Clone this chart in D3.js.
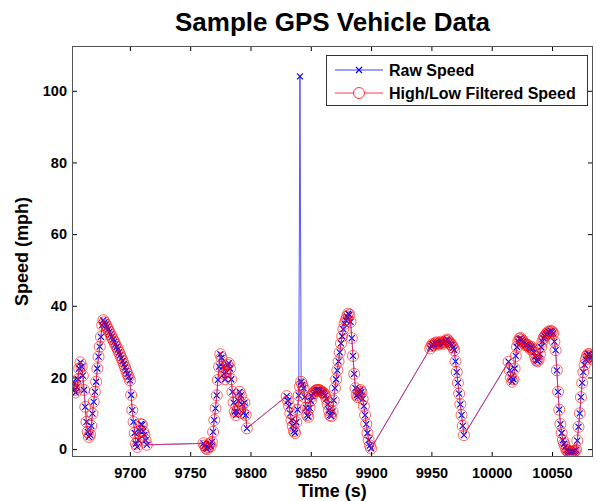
<!DOCTYPE html>
<html>
<head>
<meta charset="utf-8">
<script src="https://cdn.jsdelivr.net/npm/d3@7"></script>
<style>
  html, body { margin: 0; padding: 0; background: #fff; }
  svg { display: block; }
  text { font-family: "Liberation Sans", Arial, sans-serif; font-weight: bold; fill: #000; }
</style>
</head>
<body>
<svg id="chart" width="597" height="501"></svg>
<script>
// ---------------- DATA ----------------
const timeSec = [
  9652,9653,9654,9655,9656,9657,9658,9659,9660,9661,9662,9663,9664,9665,9666,9667,9668,9669,9670,9671,
  9672,9673,9674,9675,9676,9677,9678,9679,9680,9681,9682,9683,9684,9685,9686,9687,9688,9689,9690,9691,
  9692,9693,9694,9695,9696,9697,9698,9699,9700,9701,9702,9703,9704,9705,9706,9707,9708,9709,9710,9711,
  9712,9713,9714,
  9761,9762,9763,9764,9765,9766,9767,9768,9769,9770,9771,9772,9773,9774,9775,9776,9777,9778,9779,9780,
  9781,9782,9783,9784,9785,9786,9787,9788,9789,9790,9791,9792,9793,9794,9795,9796,9797,
  9830,9831,9832,9833,9834,9835,9836,9837,9838,9839,9840,9841,9842,9843,9844,9845,9846,9847,9848,9849,
  9850,9851,9852,9853,9854,9855,9856,9857,9858,9859,9860,9861,9862,9863,9864,9865,9866,9867,9868,9869,
  9870,9871,9872,9873,9874,9875,9876,9877,9878,9879,9880,9881,9882,9883,9884,9885,9886,9887,9888,9889,
  9890,9891,9892,9893,9894,9895,9896,9897,9898,9899,9900,
  9949,9950,9951,9952,9953,9954,9955,9956,9957,9958,9959,9960,9961,9962,9963,9964,9965,9966,9967,9968,
  9969,9970,9971,9972,9973,9974,9975,9976,9977,
  10014,10015,10016,10017,10018,10019,10020,10021,10022,10023,10024,10025,10026,10027,10028,10029,10030,
  10031,10032,10033,10034,10035,10036,10037,10038,10039,10040,10041,10042,10043,10044,10045,10046,10047,
  10048,10049,10050,10051,10052,10053,10054,10055,10056,10057,10058,10059,10060,10061,10062,10063,10064,
  10065,10066,10067,10068,10069,10070,10071,10072,10073,10074,10075,10076,10077,10078,10079,10080,10081,
  10082,10083,10084
];

const rawSpeed = [
  17.5,18.8,16.5,15.8,17.2,19.5,22.5,24.2,23.0,20.5,16.5,11.8,7.6,4.8,3.4,4.0,6.5,9.9,13.2,16.0,
  18.8,22.5,25.8,28.6,31.3,34.6,36.0,35.4,34.8,34.1,33.4,32.7,32.0,31.3,30.6,29.9,29.2,28.5,27.8,27.0,
  26.2,25.4,24.6,23.7,22.8,21.9,21.0,20.2,19.2,15.1,10.9,7.6,4.5,1.5,0.6,2.5,5.0,7.0,6.8,5.0,
  4.0,2.5,1.2,
  1.6,1.0,0.3,0.0,0.5,1.5,0.8,2.0,4.8,8.1,11.4,15.0,19.3,23.0,26.5,25.5,23.0,21.0,19.5,21.5,
  23.5,24.0,22.5,19.5,16.0,13.0,10.5,9.5,10.5,13.5,16.0,15.0,12.5,10.0,13.0,9.5,5.8,
  14.8,13.5,12.0,10.0,8.0,6.5,5.0,4.5,7.5,11.0,15.0,104.0,18.8,18.0,17.0,14.5,11.5,9.5,9.0,11.5,
  13.5,14.8,15.5,16.0,16.3,16.5,16.5,16.5,16.3,16.0,15.8,15.5,15.0,14.0,12.5,10.8,9.5,9.2,10.5,13.6,
  17.0,19.5,22.0,24.5,27.0,29.5,31.5,33.5,35.0,36.0,37.0,37.8,37.5,35.5,31.0,26.0,21.0,17.0,15.0,14.5,
  15.5,16.5,16.0,14.0,12.0,9.5,7.0,4.5,2.5,1.0,0.2,
  28.1,28.8,29.3,29.0,29.5,29.8,29.5,29.2,29.6,30.0,29.7,29.4,29.8,30.2,30.6,30.3,29.8,29.3,29.0,28.3,
  27.6,24.5,21.5,18.5,15.5,12.5,9.5,6.5,3.9,
  24.4,22.0,20.0,18.8,19.5,22.5,26.0,28.5,30.0,30.8,31.0,30.5,30.0,29.5,29.0,29.2,29.0,
  28.5,28.0,28.5,28.0,27.0,25.8,24.8,24.5,25.0,26.5,28.5,30.0,31.0,31.5,32.0,32.3,32.8,
  32.6,33.0,32.8,32.3,30.0,27.6,22.0,16.0,11.0,7.0,4.5,2.5,1.5,0.6,-0.3,-0.6,-0.8,
  -0.7,-0.8,-0.6,-0.8,-0.5,-0.2,2.4,6.2,10.0,14.5,18.5,21.5,23.5,25.0,26.0,26.5,26.5,
  26.0,25.5,25.0
];

const filteredSpeed = [
  17.5,18.8,16.5,15.8,17.2,19.5,22.5,24.2,23.0,20.5,16.5,11.8,7.6,4.8,3.4,4.0,6.5,9.9,13.2,16.0,
  18.8,22.5,25.8,28.6,31.3,34.6,36.0,35.4,34.8,34.1,33.4,32.7,32.0,31.3,30.6,29.9,29.2,28.5,27.8,27.0,
  26.2,25.4,24.6,23.7,22.8,21.9,21.0,20.2,19.2,15.1,10.9,7.6,4.5,1.5,0.6,2.5,5.0,7.0,6.8,5.0,
  4.0,2.5,1.2,
  1.6,1.0,0.3,0.0,0.5,1.5,0.8,2.0,4.8,8.1,11.4,15.0,19.3,23.0,26.5,25.5,23.0,21.0,19.5,21.5,
  23.5,24.0,22.5,19.5,16.0,13.0,10.5,9.5,10.5,13.5,16.0,15.0,12.5,10.0,13.0,9.5,5.8,
  14.8,13.5,12.0,10.0,8.0,6.5,5.0,4.5,7.5,11.0,15.0,17.5,18.8,18.0,17.0,14.5,11.5,9.5,9.0,11.5,
  13.5,14.8,15.5,16.0,16.3,16.5,16.5,16.5,16.3,16.0,15.8,15.5,15.0,14.0,12.5,10.8,9.5,9.2,10.5,13.6,
  17.0,19.5,22.0,24.5,27.0,29.5,31.5,33.5,35.0,36.0,37.0,37.8,37.5,35.5,31.0,26.0,21.0,17.0,15.0,14.5,
  15.5,16.5,16.0,14.0,12.0,9.5,7.0,4.5,2.5,1.0,0.2,
  28.1,28.8,29.3,29.0,29.5,29.8,29.5,29.2,29.6,30.0,29.7,29.4,29.8,30.2,30.6,30.3,29.8,29.3,29.0,28.3,
  27.6,24.5,21.5,18.5,15.5,12.5,9.5,6.5,3.9,
  24.4,22.0,20.0,18.8,19.5,22.5,26.0,28.5,30.0,30.8,31.0,30.5,30.0,29.5,29.0,29.2,29.0,
  28.5,28.0,28.5,28.0,27.0,25.8,24.8,24.5,25.0,26.5,28.5,30.0,31.0,31.5,32.0,32.3,32.8,
  32.6,33.0,32.8,32.3,30.0,27.6,22.0,16.0,11.0,7.0,4.5,2.5,1.5,0.6,-0.3,-0.6,-0.8,
  -0.7,-0.8,-0.6,-0.8,-0.5,-0.2,2.4,6.2,10.0,14.5,18.5,21.5,23.5,25.0,26.0,26.5,26.5,
  26.0,25.5,25.0
];

const xTicks = [9700, 9750, 9800, 9850, 9900, 9950, 10000, 10050];
const yTicks = [0, 20, 40, 60, 80, 100];
const xDomain = [9652, 10084];
const yDomain = [-2.2, 112.5];
const seriesNames = ["Raw Speed", "High/Low Filtered Speed"];
const titleText = "Sample GPS Vehicle Data";
const xLabel = "Time (s)";
const yLabel = "Speed (mph)";

// ---------------- DRAW ----------------
const svg = d3.select("#chart");
const L = 72, R = 593, T = 46, B = 457;

const x = d3.scaleLinear().domain(xDomain).range([L, R]);
const y = d3.scaleLinear().domain(yDomain).range([B, T]);

const raw = timeSec.map((t, i) => ({ t, v: rawSpeed[i] }));
const filt = timeSec.map((t, i) => ({ t, v: filteredSpeed[i] }));

svg.append("rect").attr("width", 597).attr("height", 501).attr("fill", "#fff");

const plot = svg.append("g");
svg.append("clipPath").attr("id", "clip")
  .append("rect").attr("x", L).attr("y", T).attr("width", R - L).attr("height", B - T);

const line = d3.line().x(d => x(d.t)).y(d => y(d.v));

const g = plot.append("g").attr("clip-path", "url(#clip)");

// raw series
g.append("path").datum(raw).attr("d", line)
  .attr("fill", "none").attr("stroke", "#2a2aff").attr("stroke-width", 0.8);
g.append("g").selectAll("path").data(raw).join("path")
  .attr("transform", d => `translate(${x(d.t)},${y(d.v)})`)
  .attr("d", "M-3,-3L3,3M-3,3L3,-3")
  .attr("stroke", "#0000ff").attr("stroke-width", 1.1).attr("fill", "none");

// filtered series
g.append("path").datum(filt).attr("d", line)
  .attr("fill", "none").attr("stroke", "#ff2040").attr("stroke-width", 0.8).attr("stroke-opacity", 0.85);
g.append("g").selectAll("circle").data(filt).join("circle")
  .attr("cx", d => x(d.t)).attr("cy", d => y(d.v)).attr("r", 5.5)
  .attr("fill", "none").attr("stroke", "#ff0000").attr("stroke-width", 0.8).attr("stroke-opacity", 0.75);

// axes frame
const axisG = svg.append("g");
const xb = d3.axisBottom(x).tickValues(xTicks).tickSize(-5).tickPadding(11).tickFormat(d3.format("d"));
const xt = d3.axisTop(x).tickValues(xTicks).tickSize(-5).tickFormat("");
const yl = d3.axisLeft(y).tickValues(yTicks).tickSize(-5).tickPadding(5).tickFormat(d3.format("d"));
const yr = d3.axisRight(y).tickValues(yTicks).tickSize(-5).tickFormat("");

function styleAxis(sel) {
  sel.select(".domain").remove();
  sel.selectAll(".tick line").attr("stroke", "#000").attr("stroke-width", 1);
  sel.selectAll(".tick text").style("font-size", "14.5px").style("font-weight", "bold")
    .style("font-family", "'Liberation Sans', Arial, sans-serif").attr("fill", "#000");
}
axisG.append("g").attr("transform", `translate(0,${B})`).call(xb).call(styleAxis);
axisG.append("g").attr("transform", `translate(0,${T})`).call(xt).call(styleAxis);
axisG.append("g").attr("transform", `translate(${L},0)`).call(yl).call(styleAxis);
axisG.append("g").attr("transform", `translate(${R},0)`).call(yr).call(styleAxis);

axisG.append("rect").attr("x", L + 0.5).attr("y", T + 0.5).attr("width", R - L - 1).attr("height", B - T - 1)
  .attr("fill", "none").attr("stroke", "#555").attr("stroke-width", 1);

// title and axis labels
svg.append("text").attr("x", (L + R) / 2).attr("y", 31).attr("text-anchor", "middle")
  .style("font-size", "26px").text(titleText);
svg.append("text").attr("x", (L + R) / 2).attr("y", 497).attr("text-anchor", "middle")
  .style("font-size", "18px").text(xLabel);
svg.append("text").attr("transform", `translate(28,${(T + B) / 2}) rotate(-90)`).attr("text-anchor", "middle")
  .style("font-size", "18px").text(yLabel);

// legend
const lg = svg.append("g");
lg.append("rect").attr("x", 326.5).attr("y", 55.5).attr("width", 261).attr("height", 50)
  .attr("fill", "#fff").attr("stroke", "#333").attr("stroke-width", 1);
const rows = [
  { name: seriesNames[0], y: 70, color: "#2a2aff", marker: "x" },
  { name: seriesNames[1], y: 93, color: "#ff2040", marker: "o" }
];
rows.forEach(r => {
  lg.append("line").attr("x1", 335).attr("x2", 383).attr("y1", r.y).attr("y2", r.y)
    .attr("stroke", r.color).attr("stroke-width", 0.9);
  if (r.marker === "x") {
    lg.append("path").attr("transform", `translate(359,${r.y})`).attr("d", "M-3,-3L3,3M-3,3L3,-3")
      .attr("stroke", "#0000ff").attr("stroke-width", 1.1);
  } else {
    lg.append("circle").attr("cx", 359).attr("cy", r.y).attr("r", 5.5)
      .attr("fill", "#fff").attr("stroke", "#ff0000").attr("stroke-width", 0.8);
  }
  lg.append("text").attr("x", 389).attr("y", r.y).attr("dy", "0.35em")
    .style("font-size", "16px").text(r.name);
});
</script>
</body>
</html>
